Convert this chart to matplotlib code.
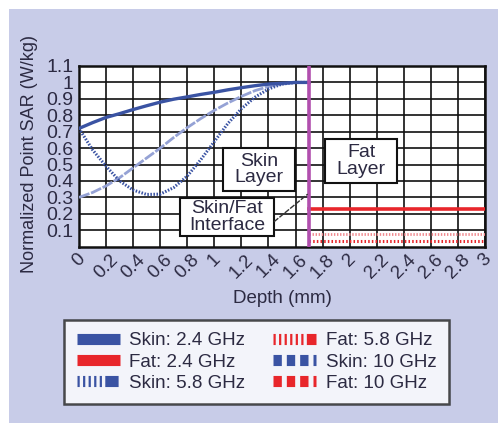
import matplotlib
matplotlib.use("Agg")
import matplotlib.pyplot as plt
from matplotlib.lines import Line2D
from matplotlib.patches import Rectangle

plt.rcParams['font.family'] = ['Liberation Sans', 'DejaVu Sans']

# ---------------- data ----------------
skin_depth = [0.0, 0.1, 0.2, 0.3, 0.4, 0.5, 0.6, 0.7, 0.8, 0.9,
              1.0, 1.1, 1.2, 1.3, 1.4, 1.5, 1.6, 1.7]
skin_24 = [0.72, 0.755, 0.787, 0.81, 0.835, 0.858, 0.88, 0.898, 0.912, 0.927,
           0.94, 0.955, 0.968, 0.98, 0.99, 0.995, 1.0, 1.0]
skin_58 = [0.72, 0.59, 0.49, 0.40, 0.345, 0.318, 0.32, 0.36, 0.43, 0.53,
           0.64, 0.75, 0.84, 0.91, 0.96, 0.99, 1.0, 1.0]
skin_10 = [0.30, 0.33, 0.37, 0.42, 0.48, 0.54, 0.60, 0.665, 0.725, 0.78,
           0.83, 0.875, 0.915, 0.95, 0.975, 0.99, 1.0, 1.0]

fat_depth = [1.7, 3.0]
fat_24 = [0.228, 0.228]
fat_58 = [0.08, 0.08]
fat_10 = [0.035, 0.035]

interface_depth = 1.7

x_ticks = [0, 0.2, 0.4, 0.6, 0.8, 1, 1.2, 1.4, 1.6, 1.8, 2, 2.2, 2.4, 2.6, 2.8, 3]
x_labels = ['0', '0.2', '0.4', '0.6', '0.8', '1', '1.2', '1.4', '1.6', '1.8',
            '2', '2.2', '2.4', '2.6', '2.8', '3']
y_ticks = [0.1, 0.2, 0.3, 0.4, 0.5, 0.6, 0.7, 0.8, 0.9, 1.0, 1.1]
y_labels = ['0.1', '0.2', '0.3', '0.4', '0.5', '0.6', '0.7', '0.8', '0.9', '1', '1.1']

legend_labels = ['Skin: 2.4 GHz', 'Fat: 2.4 GHz', 'Skin: 5.8 GHz',
                 'Fat: 5.8 GHz', 'Skin: 10 GHz', 'Fat: 10 GHz']

# ---------------- style ----------------
BLUE = '#3a53a3'
LIGHTBLUE = '#95a2d5'
RED = '#e8262b'
PINK = '#f08a8f'
MAGENTA = '#b14fae'
BG = '#c8cce8'
TXT = '#2c2a42'

W, H = 498, 423
fig = plt.figure(figsize=(W / 100, H / 100), dpi=100)
fig.patch.set_facecolor('white')
fig.patches.append(Rectangle((9 / W, 0), 1 - 9 / W, 1 - 9 / H,
                             transform=fig.transFigure, facecolor=BG,
                             edgecolor='none', zorder=-10))

ax = fig.add_axes([79 / W, 1 - 246.7 / H, (485 - 79) / W, (246.7 - 66) / H])
ax.set_facecolor('white')
ax.set_xlim(0, 3)
ax.set_ylim(0, 1.1)

ax.set_xticks(x_ticks)
ax.set_xticklabels(x_labels, rotation=45, ha='center', va='top',
                   fontsize=13.5, color=TXT)
ax.set_yticks(y_ticks)
ax.set_yticklabels(y_labels, fontsize=14, color=TXT)
ax.tick_params(axis='both', length=0)
ax.tick_params(axis='x', pad=3)
ax.tick_params(axis='y', pad=4)
ax.grid(True, color='#111111', lw=1.2)
ax.set_axisbelow(True)
for s in ax.spines.values():
    s.set_linewidth(1.8)
    s.set_color('#111111')

# curves
ax.plot(skin_depth, skin_10, color=LIGHTBLUE, lw=2.0, ls=(0, (4, 0.6)), zorder=3)
ax.plot(skin_depth, skin_58, color=BLUE, lw=2.2, ls=(0, (0.5, 0.5)), zorder=3)
ax.plot(skin_depth, skin_24, color=BLUE, lw=2.4, zorder=4)

ax.plot(fat_depth, fat_24, color=RED, lw=2.6, zorder=3)
ax.plot(fat_depth, fat_58, color=PINK, lw=2.0, ls=(0, (0.5, 0.6)), zorder=3)
ax.plot(fat_depth, fat_10, color=RED, lw=2.2, ls=(0, (0.5, 0.7)), zorder=3)

ax.axvline(interface_depth, color=MAGENTA, lw=2.6, zorder=5)

# annotation boxes
def box(x0, x1, y0, y1, text):
    ax.add_patch(Rectangle((x0, y0), x1 - x0, y1 - y0, facecolor='white',
                           edgecolor='#111111', lw=1.5, zorder=6))
    ax.text((x0 + x1) / 2, (y0 + y1) / 2, text,
            ha='center', va='center', fontsize=14, color=TXT,
            linespacing=0.95, zorder=7)

box(1.064, 1.596, 0.339, 0.601, 'Skin\nLayer')
box(1.818, 2.350, 0.388, 0.655, 'Fat\nLayer')
box(0.746, 1.441, 0.065, 0.296, 'Skin/Fat\nInterface')
ax.plot([1.441, 1.69], [0.152, 0.32], color='#333333', lw=1.0,
        ls=(0, (4, 1)), zorder=6)

ax.set_xlabel('Depth (mm)', fontsize=13.5, color=TXT, labelpad=6)
fig.text(30 / W, 1 - 154 / H, 'Normalized Point SAR (W/kg)', rotation=90,
         ha='center', va='center', fontsize=13, color=TXT)

# legend
handles = [
    Line2D([], [], color=BLUE, lw=8, solid_capstyle='butt'),
    Line2D([], [], color=RED, lw=8, solid_capstyle='butt'),
    Line2D([], [], color=BLUE, lw=8, dash_capstyle='butt',
           ls=(0, (0.2, 0.3, 0.2, 0.3, 0.2, 0.3, 0.2, 0.3, 0.2, 0.3, 1.2, 0.3, 0.2, 0.3, 0.2, 0.3, 0.2, 0.3))),
    Line2D([], [], color=RED, lw=8, dash_capstyle='butt',
           ls=(0, (0.2, 0.3, 0.2, 0.3, 0.2, 0.3, 0.2, 0.3, 0.2, 0.3, 0.2, 0.3, 1.0, 0.3, 0.2, 0.3, 0.2, 0.3))),
    Line2D([], [], color=BLUE, lw=8, dash_capstyle='butt', ls=(0, (0.75, 0.45))),
    Line2D([], [], color=RED, lw=8, dash_capstyle='butt', ls=(0, (0.75, 0.45))),
]
leg = fig.legend(handles, legend_labels, ncol=2, loc='center',
                 bbox_to_anchor=(256.5 / W, 1 - 362 / H), fontsize=13.5,
                 frameon=True, fancybox=False, edgecolor='#222222',
                 handlelength=2.3, handletextpad=0.5, columnspacing=1.5,
                 labelspacing=0.22, borderpad=0.65, borderaxespad=0)
leg.get_frame().set_linewidth(1.8)
for t in leg.get_texts():
    t.set_color(TXT)

fig.savefig('out.png', dpi=100, facecolor=fig.get_facecolor())
